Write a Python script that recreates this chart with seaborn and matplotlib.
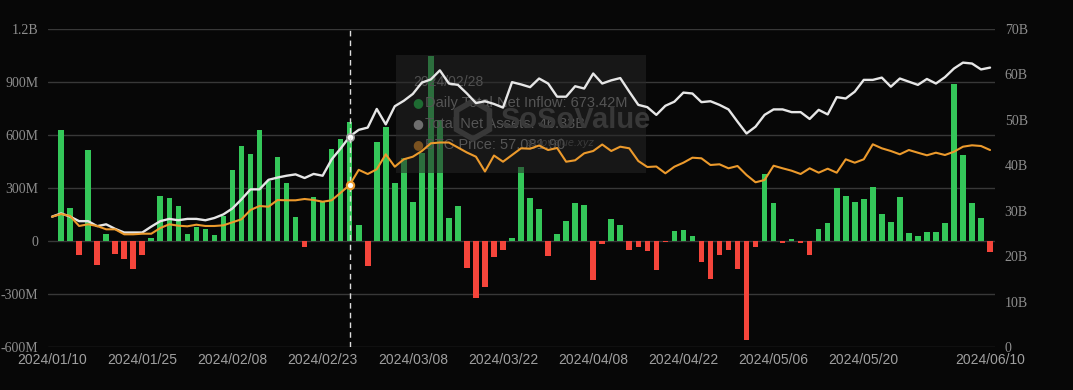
import numpy as np
import pandas as pd
import matplotlib.pyplot as plt
import seaborn as sns
from matplotlib.patches import Rectangle, RegularPolygon

# -----------------------------
# Data
# -----------------------------
holidays = ['2024-01-15', '2024-02-19', '2024-03-29', '2024-05-27']
days = [d for d in pd.bdate_range('2024-01-10', '2024-06-10') if d.strftime('%Y-%m-%d') not in holidays]
day_labels = [d.strftime('%Y/%m/%d') for d in days]

# daily total net inflow, millions USD
net_inflow = [0, 626, 189, -79, 517, -136, 42, -75, -104, -158,
              -79, 15, 255, 245, 198, 38, 77, 68, 34, 143,
              404, 540, 493, 630, 340, 477, 330, 134, -34, 249,
              223, 519, 576, 673.42, 91, -140, 560, 647, 330, 472,
              223, 500, 1045, 685, 132, 198, -153, -325, -260, -92,
              -51, 17, 419, 242, 181, -83, 40, 113, 213, 202,
              -221, -19, 123, 91, -53, -34, -55, -162, -3, 58,
              60, 30, -119, -217, -81, -51, -160, -560, -32, 377,
              217, -13, 11, -9, -81, 66, 102, 302, 257, 221,
              240, 306, 155, 108, 251, 43, 26, 49, 49, 104,
              887, 487, 217, 130, -64]

# total net assets, billions USD
net_assets = [28.7, 29.4, 28.7, 27.7, 27.7, 26.6, 27.0, 26.0, 25.2, 25.2,
              25.2, 26.5, 27.7, 28.2, 27.9, 28.2, 28.2, 27.9, 28.4, 29.2,
              30.5, 32.5, 34.7, 34.7, 36.8, 37.3, 37.7, 38.0, 37.2, 38.1,
              37.7, 41.3, 43.7, 46.33, 47.8, 48.3, 52.4, 49.0, 53.0, 54.2,
              55.7, 58.2, 58.9, 60.9, 58.0, 57.7, 55.8, 53.7, 54.1, 53.5,
              52.7, 58.3, 57.8, 57.2, 59.1, 58.0, 55.1, 55.1, 57.4, 56.9,
              60.2, 58.0, 58.7, 59.2, 56.2, 53.3, 52.8, 51.1, 53.1, 54.0,
              56.0, 55.8, 53.9, 54.1, 53.3, 52.3, 49.6, 47.0, 48.5, 51.1,
              52.3, 52.3, 51.7, 51.7, 50.2, 52.2, 51.2, 55.0, 54.7, 56.2,
              58.8, 58.8, 59.3, 57.3, 59.1, 58.4, 57.7, 59.0, 58.0, 59.4,
              61.3, 62.6, 62.4, 61.1, 61.5]

# BTC price, USD
btc_price = [45890, 46840, 46140, 42620, 43220, 42620, 41450, 41450, 39690, 39690,
             39900, 39900, 41910, 43220, 42720, 42510, 43070, 42620, 42620, 42860,
             43920, 44980, 48250, 49660, 49410, 51770, 51670, 51670, 52130, 51770,
             51170, 51670, 54340, 57081.9, 62400, 60930, 62590, 67870, 63500, 66110,
             67020, 69030, 71740, 72020, 72020, 70260, 68500, 67020, 61810, 67440,
             65260, 67620, 69980, 69840, 70970, 69380, 70090, 65260, 65760, 68220,
             69030, 71320, 69030, 70550, 69980, 65510, 63400, 63570, 61180, 63500,
             64910, 66670, 66460, 64100, 64350, 62940, 63750, 60580, 58010, 58820,
             63850, 62940, 62090, 60930, 62940, 61390, 62800, 61390, 66110, 64910,
             66110, 71390, 69980, 69030, 67870, 69380, 68430, 67520, 68430, 67620,
             68780, 70550, 71040, 70790, 69380]

left_ticks = [-600, -300, 0, 300, 600, 900, 1200]
left_tick_labels = ['-600M', '-300M', '0', '300M', '600M', '900M', '1.2B']
right_ticks = [0, 10, 20, 30, 40, 50, 60, 70]
right_tick_labels = ['0', '10B', '20B', '30B', '40B', '50B', '60B', '70B']
x_tick_pos = [0, 10, 20, 30, 40, 50, 60, 70, 80, 90, 104]
hover_idx = 33

df = pd.DataFrame({'day': day_labels, 'inflow': net_inflow,
                   'assets': net_assets, 'btc': btc_price})
df['idx'] = np.arange(len(df))
df['sign'] = np.where(df['inflow'] >= 0, 'up', 'down')

# -----------------------------
# Style
# -----------------------------
bg = '#070707'
green = '#34c759'
red = '#f5453b'
white_line = '#e6e6e6'
orange = '#ec9a2c'
grid_col = '#383838'
tick_col = '#8e8e8e'

sns.set_theme(style="dark", rc={
    "figure.facecolor": bg,
    "axes.facecolor": bg,
    "savefig.facecolor": bg,
})

fig = plt.figure(figsize=(10.73, 3.90), dpi=100)
W, H = 1073, 390
ax = fig.add_axes([48 / W, 1 - 347 / H, (995 - 48) / W, (347 - 29) / H])

# -----------------------------
# Bars: daily net inflow (left axis)
# -----------------------------
sns.barplot(data=df, x='day', y='inflow', hue='sign',
            palette={'up': green, 'down': red}, dodge=False,
            width=0.62, legend=False, ax=ax, zorder=3, saturation=1,
            linewidth=0, edgecolor='none')

ax.set_ylim(-600, 1200)
ax.set_yticks(left_ticks)
ax.set_yticklabels(left_tick_labels, family='Liberation Serif', fontsize=10, color=tick_col)
ax.set_xlim(-0.45, 104.55)
ax.set_xticks(x_tick_pos)
ax.set_xticklabels([day_labels[i] for i in x_tick_pos], family='Liberation Sans',
                   fontsize=10, color='#a0a0a0')
ax.tick_params(axis='both', length=0)
ax.tick_params(axis='y', pad=7)
ax.tick_params(axis='x', pad=4)
ax.grid(axis='y', color=grid_col, linewidth=1, zorder=0)
ax.grid(axis='x', visible=False)
ax.set_xlabel('')
ax.set_ylabel('')
for s in ax.spines.values():
    s.set_visible(False)

# -----------------------------
# Tooltip box + watermark (under the lines)
# -----------------------------
ax.add_patch(Rectangle((396, H - 173), 250, 118, transform=None,
                       facecolor='#262626', alpha=0.55, edgecolor='none', zorder=5))
ax.text(413 / W, 1 - 82 / H, day_labels[hover_idx], transform=fig.transFigure,
        color='#505050', fontsize=10, family='Liberation Sans', va='center', zorder=6)
tip_rows = [('Daily Total Net Inflow: 673.42M', '#1e6b32'),
            ('Total Net Assets: 46.33B', '#6e6e6e'),
            ('BTC Price: 57,081.90', '#7a5220')]
for k, (txt, dot) in enumerate(tip_rows):
    yy = 1 - (103 + 21 * k) / H
    ax.text(418 / W, yy, '\u25CF', transform=fig.transFigure, color=dot,
            fontsize=9, ha='center', va='center', zorder=6)
    ax.text(425 / W, yy, txt, transform=fig.transFigure, color='#555555',
            fontsize=10.5, family='Liberation Sans', va='center', zorder=6)
ax.text(500 / W, 1 - 120 / H, 'SoSoValue', transform=fig.transFigure, color='#383838',
        fontsize=21, fontweight='bold', family='Liberation Sans', va='center', zorder=6)
ax.add_patch(RegularPolygon((473, H - 120), numVertices=6, radius=19, transform=None,
                            facecolor='none', edgecolor='#383838', linewidth=4, zorder=6))
ax.text(560 / W, 1 - 143 / H, 'sosovalue.xyz', transform=fig.transFigure, color='#3a3a3a',
        fontsize=7, style='italic', ha='center', va='center', zorder=6)

# -----------------------------
# Lines: total net assets (right axis) and BTC price (hidden axis)
# -----------------------------
ax2 = ax.twinx()
sns.lineplot(data=df, x='idx', y='assets', ax=ax2, color=white_line, linewidth=1.7)
ax2.set_ylim(0, 70)
ax2.set_yticks(right_ticks)
ax2.set_yticklabels(right_tick_labels, family='Liberation Serif', fontsize=10, color=tick_col)
ax2.tick_params(axis='y', length=0, pad=7)
ax2.grid(False)
ax2.set_ylabel('')
ax2.set_xlabel('')

ax3 = ax.twinx()
sns.lineplot(data=df, x='idx', y='btc', ax=ax3, color=orange, linewidth=1.5)
ax3.set_ylim(0, 112000)
ax3.set_yticks([])
ax3.grid(False)
ax3.set_ylabel('')
ax3.set_xlabel('')

for a in (ax2, ax3):
    a.set_xlim(-0.45, 104.55)
    for s in a.spines.values():
        s.set_visible(False)

# hover markers + dashed crosshair
ax3.axvline(hover_idx, color='#dddddd', linestyle=(0, (4, 3)), linewidth=1, zorder=1)
ax2.scatter([hover_idx], [net_assets[hover_idx]], s=28, color='white',
            edgecolor='#9a9a9a', linewidth=1.2, zorder=10)
ax3.scatter([hover_idx], [btc_price[hover_idx]], s=28, color='white',
            edgecolor=orange, linewidth=1.5, zorder=10)

plt.savefig('out.png', dpi=100, facecolor=bg)
